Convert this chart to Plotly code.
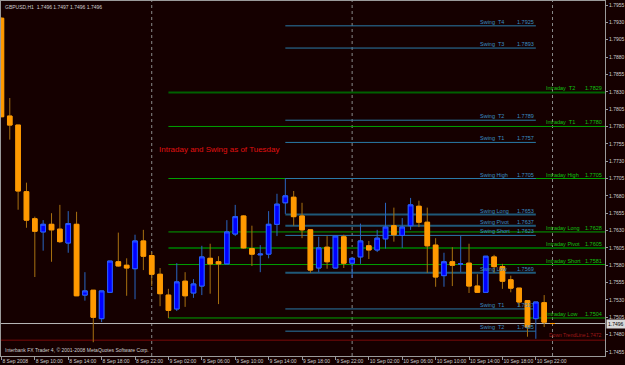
import pandas as pd
import plotly.graph_objects as go

# ---------------- data ----------------
bar_times = pd.date_range("2008-09-08 06:00", periods=67, freq="h")

opens = [1.7936, 1.7795, 1.7782, 1.7686, 1.7647, 1.7628, 1.7639, 1.7632, 1.7612, 1.7639,
         1.7537, 1.7544, 1.7503, 1.7541, 1.7585, 1.7580, 1.7575, 1.7615, 1.7594, 1.7567,
         1.7537, 1.7517, 1.7557, 1.7540, 1.7550, 1.7590, 1.7585, 1.7582, 1.7625, 1.7651,
         1.7604, 1.7595, 1.7596, 1.7639, 1.7670, 1.7678, 1.7651, 1.7631, 1.7576, 1.7606,
         1.7576, 1.7621, 1.7583, 1.7592, 1.7608, 1.7602, 1.7618, 1.7637, 1.7623, 1.7637,
         1.7665, 1.7642, 1.7609, 1.7565, 1.7585, 1.7582, 1.7583, 1.7550, 1.7541, 1.7592,
         1.7578, 1.7559, 1.7547, 1.7529, 1.7503, 1.7526, 1.7496]
highs = [1.7937, 1.7821, 1.7782, 1.7699, 1.7650, 1.7645, 1.7655, 1.7667, 1.7658, 1.7657,
         1.7570, 1.7544, 1.7543, 1.7586, 1.7627, 1.7590, 1.7624, 1.7631, 1.7599, 1.7576,
         1.7546, 1.7583, 1.7570, 1.7560, 1.7608, 1.7611, 1.7593, 1.7645, 1.7667, 1.7652,
         1.7637, 1.7609, 1.7658, 1.7683, 1.7705, 1.7687, 1.7670, 1.7631, 1.7621, 1.7622,
         1.7622, 1.7624, 1.7592, 1.7640, 1.7615, 1.7631, 1.7670, 1.7663, 1.7648, 1.7677,
         1.7673, 1.7663, 1.7619, 1.7598, 1.7606, 1.7622, 1.7611, 1.7567, 1.7593, 1.7595,
         1.7582, 1.7565, 1.7547, 1.7529, 1.7527, 1.7537, 1.7497]
lows = [1.7794, 1.7761, 1.7660, 1.7634, 1.7563, 1.7601, 1.7585, 1.7612, 1.7598, 1.7536,
        1.7529, 1.7469, 1.7498, 1.7540, 1.7578, 1.7536, 1.7531, 1.7573, 1.7550, 1.7521,
        1.7504, 1.7514, 1.7520, 1.7533, 1.7537, 1.7539, 1.7524, 1.7582, 1.7622, 1.7604,
        1.7579, 1.7570, 1.7590, 1.7622, 1.7654, 1.7637, 1.7619, 1.7569, 1.7570, 1.7575,
        1.7576, 1.7576, 1.7562, 1.7582, 1.7589, 1.7599, 1.7604, 1.7614, 1.7605, 1.7631,
        1.7635, 1.7569, 1.7549, 1.7549, 1.7550, 1.7570, 1.7540, 1.7540, 1.7541, 1.7569,
        1.7546, 1.7541, 1.7520, 1.7477, 1.7474, 1.7491, 1.7496]
closes = [1.7794, 1.7782, 1.7687, 1.7645, 1.7629, 1.7639, 1.7631, 1.7614, 1.7640, 1.7536,
          1.7543, 1.7505, 1.7543, 1.7586, 1.7579, 1.7576, 1.7615, 1.7593, 1.7567, 1.7539,
          1.7515, 1.7556, 1.7536, 1.7553, 1.7592, 1.7582, 1.7582, 1.7628, 1.7650, 1.7605,
          1.7596, 1.7596, 1.7639, 1.7668, 1.7680, 1.7650, 1.7631, 1.7573, 1.7605, 1.7585,
          1.7622, 1.7583, 1.7590, 1.7615, 1.7602, 1.7619, 1.7635, 1.7624, 1.7635, 1.7667,
          1.7642, 1.7608, 1.7563, 1.7585, 1.7580, 1.7582, 1.7550, 1.7541, 1.7593, 1.7578,
          1.7557, 1.7547, 1.7527, 1.7491, 1.7527, 1.7498, 1.7496]

swing_names = ["Swing  T4", "Swing  T3", "Swing  T2", "Swing  T1", "Swing High", "Swing Long",
               "Swing Pivot", "Swing Short", "Swing Low", "Swing  T1", "Swing  T2"]
swing_values = [1.7925, 1.7893, 1.7789, 1.7757, 1.7705, 1.7653, 1.7637, 1.7623, 1.7569, 1.7517, 1.7485]
swing_thick = [False, False, False, False, False, True, True, False, True, False, False]

intraday_names = ["Intraday  T2", "Intraday  T1", "Intraday High", "Intraday Long",
                  "Intraday Pivot", "Intraday Short", "Intraday Low"]
intraday_values = [1.7829, 1.7780, 1.7705, 1.7628, 1.7605, 1.7581, 1.7504]
intraday_thick = [True, False, False, False, True, False, False]

trend_name = "Down TrendLine"
trend_value = 1.7472
bid_price = 1.7496

separators = ["2008-09-09 00:00", "2008-09-10 00:00", "2008-09-11 00:00"]
swing_start, swing_end = "2008-09-09 16:00", "2008-09-10 22:00"
intraday_start = "2008-09-09 02:00"
x_range = ["2008-09-08 05:57", "2008-09-11 06:17"]
y_range = [1.74492, 1.79608]

label_times = pd.date_range("2008-09-08 10:00", "2008-09-10 22:00", freq="4h")
tick_times = ["2008-09-08 06:00"] + [str(t) for t in label_times]
tick_labels = ["8 Sep 2008"] + [f"{t.day} Sep {t:%H:%M}" for t in label_times]

header = "GBPUSD,H1  1.7496 1.7497 1.7496 1.7496"
copyright_text = "Interbank FX Trader 4, © 2001-2008 MetaQuotes Software Corp."
title_text = "Intraday and Swing as of Tuesday"

# ---------------- styles ----------------
BG = "#150000"
FONT = "Liberation Sans"
TXT = "#cfcfcf"
AX = "#9a9a9a"
UP_BODY, UP_LINE, UP_WICK = "#0000ff", "#2a5cff", "#2a64c0"
DN_BODY, DN_LINE, DN_WICK = "#ff9900", "#ff9900", "#a87010"
SW_THIN, SW_THICK, SW_TXT = "#2a7aa8", "#1f5878", "#3a8fc4"
ID_THIN, ID_THICK, ID_TXT = "#00a000", "#006000", "#10c010"
TREND_COL = "#7a0a0a"

fig = go.Figure()

# candles: full range (wicks)
fig.add_trace(go.Candlestick(
    x=bar_times, open=opens, high=highs, low=lows, close=closes,
    increasing=dict(line=dict(color=UP_WICK, width=1), fillcolor=UP_BODY),
    decreasing=dict(line=dict(color=DN_WICK, width=1), fillcolor=DN_BODY),
    showlegend=False, hoverinfo="skip"))
# bodies with bright outline
body_hi = [max(o, c) for o, c in zip(opens, closes)]
body_lo = [min(o, c) for o, c in zip(opens, closes)]
fig.add_trace(go.Candlestick(
    x=bar_times, open=opens, high=body_hi, low=body_lo, close=closes,
    increasing=dict(line=dict(color=UP_LINE, width=1), fillcolor=UP_BODY),
    decreasing=dict(line=dict(color=DN_LINE, width=1), fillcolor=DN_BODY),
    showlegend=False, hoverinfo="skip"))

shapes = []
annos = []
fs = 5.5

for t in separators:
    shapes.append(dict(type="line", xref="x", yref="paper", x0=t, x1=t, y0=0, y1=1,
                       line=dict(color="#8a8a8a", width=1, dash="dot"), layer="below"))

for name, v, thick in zip(intraday_names, intraday_values, intraday_thick):
    shapes.append(dict(type="line", xref="x", yref="y", x0=intraday_start, x1=x_range[1], y0=v, y1=v,
                       line=dict(color=ID_THICK if thick else ID_THIN, width=2 if thick else 1), layer="below"))
    annos.append(dict(xref="paper", yref="y", x=0.899, y=v, xanchor="left", yanchor="bottom",
                      text=name, showarrow=False, font=dict(family=FONT, size=fs, color=ID_TXT), yshift=-1))
    annos.append(dict(xref="paper", yref="y", x=0.999, y=v, xanchor="right", yanchor="bottom",
                      text=f"{v:.4f}", showarrow=False, font=dict(family=FONT, size=fs, color=ID_TXT), yshift=-1))

for name, v, thick in zip(swing_names, swing_values, swing_thick):
    shapes.append(dict(type="line", xref="x", yref="y", x0=swing_start, x1=swing_end, y0=v, y1=v,
                       line=dict(color=SW_THICK if thick else SW_THIN, width=2 if thick else 1), layer="below"))
    annos.append(dict(xref="paper", yref="y", x=0.7897, y=v, xanchor="left", yanchor="bottom",
                      text=name, showarrow=False, font=dict(family=FONT, size=fs, color=SW_TXT), yshift=-1))
    annos.append(dict(xref="x", yref="y", x=swing_end, y=v, xanchor="right", yanchor="bottom",
                      text=f"{v:.4f}", showarrow=False, font=dict(family=FONT, size=fs, color=SW_TXT), yshift=-1))

# down trend line
shapes.append(dict(type="line", xref="paper", yref="y", x0=0, x1=1, y0=trend_value, y1=trend_value,
                   line=dict(color=TREND_COL, width=1), layer="below"))
annos.append(dict(xref="paper", yref="y", x=0.9036, y=trend_value, xanchor="left", yanchor="bottom",
                  text=trend_name, showarrow=False, font=dict(family=FONT, size=5, color="#a01818")))
annos.append(dict(xref="paper", yref="y", x=0.999, y=trend_value, xanchor="right", yanchor="bottom",
                  text=f"{trend_value:.4f}", showarrow=False, font=dict(family=FONT, size=5, color="#a01818")))

# bid line
shapes.append(dict(type="line", xref="paper", yref="y", x0=0, x1=1, y0=bid_price, y1=bid_price,
                   line=dict(color="#b8b8b8", width=1), layer="below"))
annos.append(dict(xref="paper", yref="y", x=1.0, y=bid_price, xanchor="left", yanchor="middle",
                  text=f"{bid_price:.4f}", showarrow=False, bgcolor="#d8d8d8", borderpad=1,
                  font=dict(family=FONT, size=5, color="#000000"), xshift=1))

# texts
annos.append(dict(xref="paper", yref="paper", x=0.003, y=0.997, xanchor="left", yanchor="top",
                  text=header, showarrow=False, font=dict(family=FONT, size=5, color=TXT)))
annos.append(dict(xref="paper", yref="paper", x=0.003, y=0.003, xanchor="left", yanchor="bottom",
                  text=copyright_text, showarrow=False, font=dict(family=FONT, size=5, color=TXT)))
annos.append(dict(xref="paper", yref="paper", x=0.258, y=0.583, xanchor="left", yanchor="middle",
                  text=title_text, showarrow=False, font=dict(family=FONT, size=8, color="#e01010")))

fig.update_layout(
    width=625, height=365,
    margin=dict(l=1, r=20, t=1, b=9, pad=0, autoexpand=False),
    paper_bgcolor=BG, plot_bgcolor=BG,
    boxgap=0.45, boxgroupgap=0,
    shapes=shapes, annotations=annos,
    showlegend=False,
    xaxis=dict(type="date", range=x_range, showgrid=False, zeroline=False,
               showline=True, linecolor=AX, linewidth=1, mirror=True,
               ticks="outside", ticklen=3, tickcolor=AX,
               tickvals=tick_times, ticktext=tick_labels, tickangle=0,
               ticklabelposition="outside right", automargin=False,
               tickfont=dict(family=FONT, size=5, color=TXT),
               rangeslider=dict(visible=False), fixedrange=True),
    yaxis=dict(side="right", range=y_range, showgrid=False, zeroline=False,
               showline=True, linecolor=AX, linewidth=1, mirror=True,
               ticks="outside", ticklen=2, tickcolor=AX, automargin=False,
               tick0=1.7455, dtick=0.0025, tickformat=".4f",
               tickfont=dict(family=FONT, size=5, color=TXT), fixedrange=True),
)

fig.write_html("out.html")
